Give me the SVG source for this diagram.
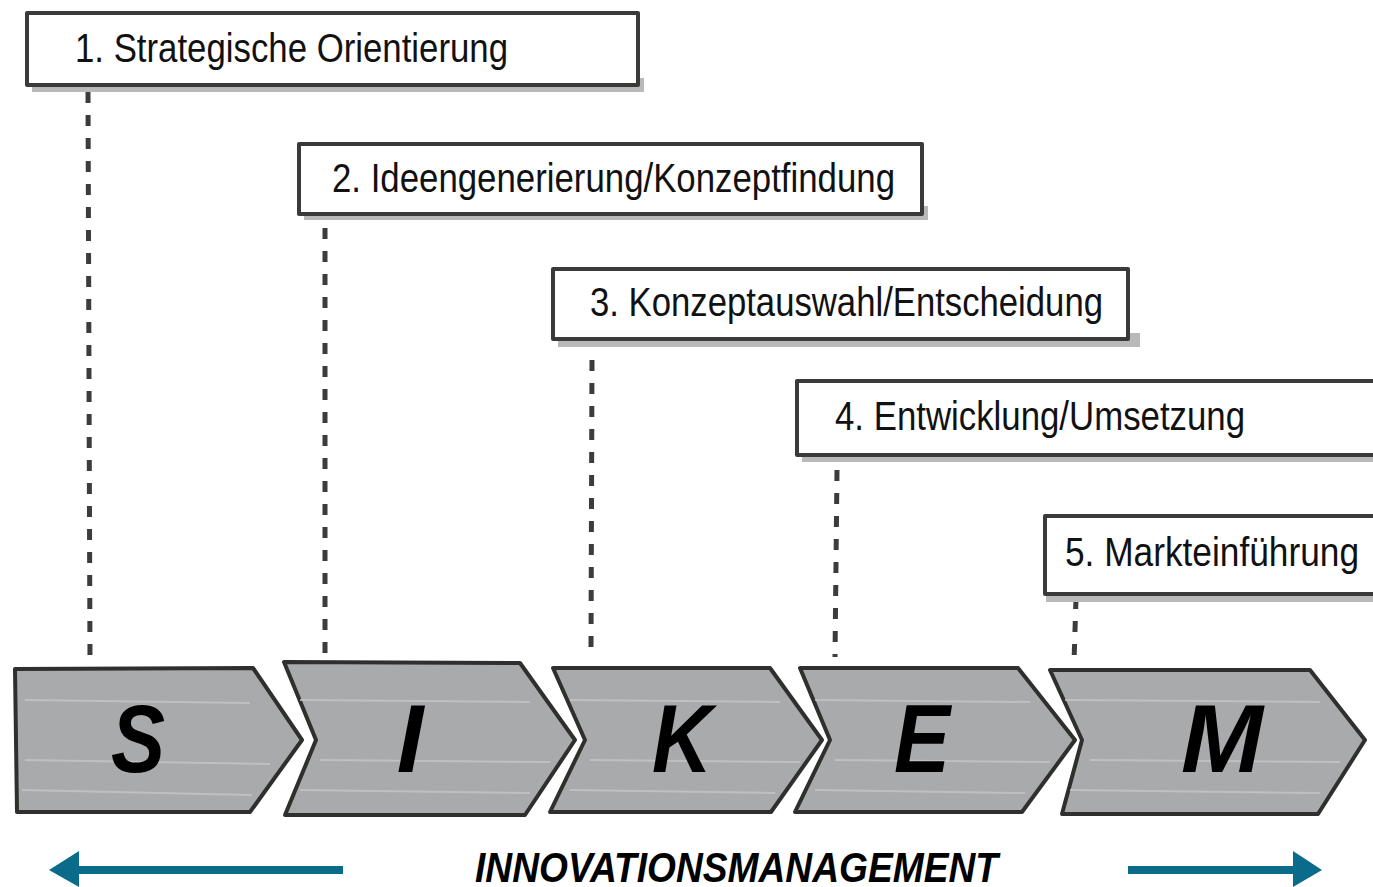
<svg xmlns="http://www.w3.org/2000/svg" width="1373" height="887" viewBox="0 0 1373 887">
<style>
.box{fill:#fff;stroke:#3a3a38;stroke-width:4;stroke-linejoin:round}
.shadow{fill:#b9b9b9}
.lbl{font-family:"Liberation Sans",Arial,sans-serif;font-size:40px;fill:#111}
.chev{fill:#a9aaac;stroke:#2f2f2d;stroke-width:4;stroke-linejoin:round}
.streak{stroke:#c4c5c7;stroke-width:2;fill:none;opacity:0.8}
.big{font-family:"Liberation Sans",Arial,sans-serif;font-weight:bold;font-style:italic;font-size:96px;fill:#000;text-anchor:middle}
.dash{stroke:#3c3c3a;stroke-width:5;stroke-dasharray:11 12;fill:none}
.teal{stroke:#0b6b8a;stroke-width:8;fill:none}
.head{fill:#0b6b8a}
.title{font-family:"Liberation Sans",Arial,sans-serif;font-weight:bold;font-style:italic;font-size:43px;fill:#000}
</style>

<g id="connectors">
<line class="dash" x1="88" y1="92" x2="90" y2="662"/>
<line class="dash" x1="325" y1="228" x2="325" y2="655"/>
<line class="dash" x1="592" y1="360" x2="591" y2="650"/>
<line class="dash" x1="837" y1="470" x2="835" y2="657"/>
<line class="dash" x1="1076" y1="598" x2="1074" y2="662"/>
</g>

<g id="box1">
<rect class="shadow" x="32" y="78" width="612" height="14"/>
<rect class="box" x="27" y="13" width="611" height="72"/>
<text class="lbl" x="75" y="62" textLength="433" lengthAdjust="spacingAndGlyphs">1. Strategische Orientierung</text>
</g>
<g id="box2">
<rect class="shadow" x="304" y="206" width="624" height="14"/>
<rect class="box" x="299" y="144" width="623" height="70"/>
<text class="lbl" x="332" y="192" textLength="563" lengthAdjust="spacingAndGlyphs">2. Ideengenerierung/Konzeptfindung</text>
</g>
<g id="box3">
<rect class="shadow" x="558" y="333" width="582" height="14"/>
<rect class="box" x="553" y="269" width="575" height="70"/>
<text class="lbl" x="590" y="316" textLength="513" lengthAdjust="spacingAndGlyphs">3. Konzeptauswahl/Entscheidung</text>
</g>
<g id="box4">
<rect class="shadow" x="802" y="448" width="580" height="14"/>
<rect class="box" x="797" y="381" width="590" height="74"/>
<text class="lbl" x="835" y="430" textLength="410" lengthAdjust="spacingAndGlyphs">4. Entwicklung/Umsetzung</text>
</g>
<g id="box5">
<rect class="shadow" x="1046" y="588" width="340" height="14"/>
<rect class="box" x="1045" y="516" width="345" height="78"/>
<text class="lbl" x="1065" y="566" textLength="294" lengthAdjust="spacingAndGlyphs">5. Markteinführung</text>
</g>

<g id="chevS">
<path class="chev" d="M15,669 L253,668 L302,740 L250,812 L17,812 Z"/>
<path class="streak" d="M25,700 L250,703 M25,760 L270,764 M22,790 L252,795"/>
<text class="big" x="138" y="772" textLength="54" lengthAdjust="spacingAndGlyphs">S</text>
</g>
<g id="chevI">
<path class="chev" d="M284,662 L520,663 L575,740 L525,815 L285,815 L316,740 Z"/>
<path class="streak" d="M300,700 L530,702 M320,760 L550,762 M300,790 L530,793"/>
<text class="big" x="410" y="772">I</text>
</g>
<g id="chevK">
<path class="chev" d="M553,668 L770,668 L822,740 L771,812 L550,812 L585,740 Z"/>
<path class="streak" d="M570,700 L780,702 M590,760 L800,762 M570,790 L775,793"/>
<text class="big" x="682" y="772" textLength="60" lengthAdjust="spacingAndGlyphs">K</text>
</g>
<g id="chevE">
<path class="chev" d="M800,668 L1018,668 L1075,740 L1022,812 L795,812 L830,740 Z"/>
<path class="streak" d="M815,700 L1030,702 M835,760 L1050,762 M815,790 L1025,793"/>
<text class="big" x="922" y="772" textLength="56" lengthAdjust="spacingAndGlyphs">E</text>
</g>
<g id="chevM">
<path class="chev" d="M1050,670 L1310,670 L1365,740 L1318,814 L1062,814 L1082,740 Z"/>
<path class="streak" d="M1065,700 L1320,702 M1090,760 L1340,762 M1070,790 L1320,793"/>
<text class="big" x="1222" y="772" textLength="82" lengthAdjust="spacingAndGlyphs">M</text>
</g>

<g id="footer">
<line class="teal" x1="72" y1="870" x2="343" y2="870"/>
<polygon class="head" points="49,870 79,851 79,887"/>
<line class="teal" x1="1128" y1="870" x2="1300" y2="870"/>
<polygon class="head" points="1322,870 1293,851 1293,887"/>
<text class="title" x="475" y="882" textLength="523" lengthAdjust="spacingAndGlyphs">INNOVATIONSMANAGEMENT</text>
</g>
</svg>
